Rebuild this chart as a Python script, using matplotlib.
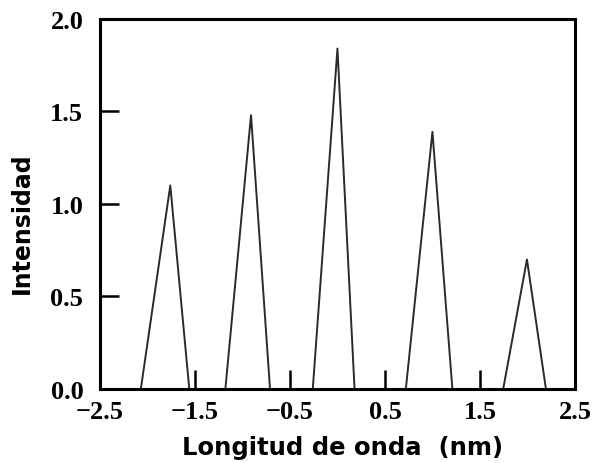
import matplotlib.pyplot as plt

# peak profile (wavelength in nm, intensity)
wavelength = [-2.5, -2.07, -1.76, -1.56, -1.18, -0.91, -0.71, -0.26, 0.0, 0.18,
              0.72, 1.0, 1.21, 1.745, 1.995, 2.195, 2.5]
intensity = [0.0, 0.0, 1.10, 0.0, 0.0, 1.48, 0.0, 0.0, 1.84, 0.0,
             0.0, 1.39, 0.0, 0.0, 0.70, 0.0, 0.0]

xticks = [-2.5, -1.5, -0.5, 0.5, 1.5, 2.5]
yticks = [0.0, 0.5, 1.0, 1.5, 2.0]

fig = plt.figure(figsize=(5.97, 4.64), dpi=100)
ax = fig.add_axes([0.1675, 0.1595, 0.7955, 0.7975])

ax.plot(wavelength, intensity, color='#2a2a2a', lw=1.4)

ax.set_xlim(-2.5, 2.5)
ax.set_ylim(0, 2.0)
ax.set_xticks(xticks)
ax.set_yticks(yticks)
ax.set_xticklabels([f"{v:.1f}".replace('-', '\u2212') for v in xticks])
ax.set_yticklabels([f"{v:.1f}" for v in yticks])

for s in ax.spines.values():
    s.set_linewidth(2.2)

ax.tick_params(axis='x', direction='in', length=14, width=1.8, pad=8,
               top=False)
ax.tick_params(axis='y', direction='in', length=14, width=1.8, pad=12,
               right=False)
for lab in ax.get_xticklabels() + ax.get_yticklabels():
    lab.set_fontfamily('Liberation Serif')
    lab.set_fontweight('bold')
    lab.set_fontsize(19)

ax.set_xlabel("Longitud de onda  (nm)", fontfamily='DejaVu Sans',
              fontweight='bold', fontsize=17.5)
ax.set_ylabel("Intensidad", fontfamily='DejaVu Sans',
              fontweight='bold', fontsize=17)
ax.xaxis.set_label_coords(0.51, -0.125)
ax.yaxis.set_label_coords(-0.14, 0.45)

fig.savefig("out.png", dpi=100)
